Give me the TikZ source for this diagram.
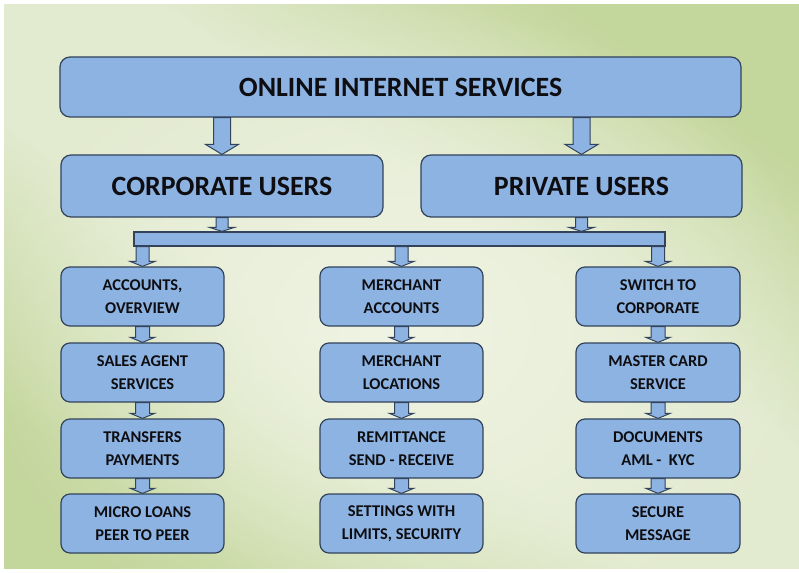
\documentclass[tikz,border=0pt]{standalone}
\usepackage{fontspec}
\setmainfont{Carlito}
\usetikzlibrary{calc,fadings}
\definecolor{boxfill}{HTML}{8DB3E2}
\definecolor{boxline}{HTML}{33435B}
\definecolor{bgG}{HTML}{C3D69B}
\definecolor{bgM}{HTML}{E2EACF}
\definecolor{bgL}{HTML}{F0F4E4}
\definecolor{txt}{HTML}{0E0E12}
\pgfdeclareverticalshading{bgsh}{100bp}{color(0bp)=(bgG); color(25bp)=(bgG); color(43bp)=(bgM); color(50bp)=(bgM); color(57bp)=(bgM); color(75bp)=(bgG); color(100bp)=(bgG)}
\tikzfading[name=bgfade, inner color=transparent!0, outer color=transparent!100]
\tikzset{
  bigbox/.style={draw=boxline, fill=boxfill, line width=1.2bp, rounded corners=10bp,
    inner sep=0pt, align=center, text=txt, font=\fontsize{28}{32}\selectfont\bfseries},
  smallbox/.style={draw=boxline, fill=boxfill, line width=1.2bp, rounded corners=9bp,
    inner sep=0pt, align=center, text=txt, minimum width=163bp, minimum height=59bp,
    font=\fontsize{16.5}{22.7}\selectfont\bfseries},
  barbox/.style={draw=boxline, fill=boxfill, line width=1.2bp, inner sep=0pt},
  blkarrow/.style={draw=boxline, fill=boxfill, line width=1bp, line join=miter},
}
% block arrow: #1 start, #2 tip, #3 shaft half width, #4 head half width, #5 head length
\newcommand\blkarr[5]{%
  \filldraw[blkarrow] let \p1=#1, \p2=#2 in
    (\x1-#3,\y1) -- (\x1-#3,\y2+#5) -- (\x1-#4,\y2+#5) -- (\x1,\y2)
    -- (\x1+#4,\y2+#5) -- (\x1+#3,\y2+#5) -- (\x1+#3,\y1) -- cycle;}
\begin{document}
\begin{tikzpicture}[x=1bp,y=-1bp]
\useasboundingbox (0,0) rectangle (799,573);
\fill[white] (0,0) rectangle (799,573);
\shade[shading=bgsh, shading angle=-35] (4,5) rectangle (799,568);
\begin{scope}
\clip (4,5) rectangle (799,568);
\fill[bgL, path fading=bgfade] (400,330) ellipse [x radius=430bp, y radius=330bp];
\end{scope}

% nodes
\node[bigbox, minimum width=681bp, minimum height=60bp] (top) at (400.5,87) {ONLINE INTERNET SERVICES};
\node[bigbox, minimum width=322bp, minimum height=62bp] (corp) at (222,186) {CORPORATE USERS};
\node[bigbox, minimum width=321bp, minimum height=62bp] (priv) at (581.5,186) {PRIVATE USERS};
\node[barbox, minimum width=531bp, minimum height=14bp] (bar) at (399.5,239) {};

\node[smallbox] (l1) at (142.5,296.5) {ACCOUNTS,\\OVERVIEW};
\node[smallbox] (l2) at (142.5,372.5) {SALES AGENT\\SERVICES};
\node[smallbox] (l3) at (142.5,448.5) {TRANSFERS\\PAYMENTS};
\node[smallbox] (l4) at (142.5,523.5) {MICRO LOANS\\PEER TO PEER};

\node[smallbox] (m1) at (401.5,296.5) {MERCHANT\\ACCOUNTS};
\node[smallbox] (m2) at (401.5,372.5) {MERCHANT\\LOCATIONS};
\node[smallbox] (m3) at (401.5,448.5) {REMITTANCE\\SEND - RECEIVE};
\node[smallbox] (m4) at (401.5,523.5) {SETTINGS WITH\\LIMITS, SECURITY};

\node[smallbox, minimum width=164bp] (r1) at (658,296.5) {SWITCH TO\\CORPORATE};
\node[smallbox, minimum width=164bp] (r2) at (658,372.5) {MASTER CARD\\SERVICE};
\node[smallbox, minimum width=164bp] (r3) at (658,448.5) {DOCUMENTS\\AML -\ \ KYC};
\node[smallbox, minimum width=164bp] (r4) at (658,523.5) {SECURE\\MESSAGE};

% block arrows
\blkarr{(corp.north |- top.south)}{(corp.north)}{8.5bp}{16.5bp}{10bp}
\blkarr{(priv.north |- top.south)}{(priv.north)}{8.5bp}{16.5bp}{10bp}
\blkarr{(corp.south)}{(corp.south |- bar.north)}{6bp}{12.5bp}{4bp}
\blkarr{(priv.south)}{(priv.south |- bar.north)}{6bp}{12.5bp}{4bp}
\blkarr{(l1.north |- bar.south)}{(l1.north)}{6.5bp}{12.5bp}{5bp}
\blkarr{(m1.north |- bar.south)}{(m1.north)}{6.5bp}{12.5bp}{5bp}
\blkarr{(r1.north |- bar.south)}{(r1.north)}{6.5bp}{12.5bp}{5bp}
\foreach \c in {l,m,r}{
  \blkarr{(\c1.south)}{(\c2.north)}{7bp}{12bp}{5bp}
  \blkarr{(\c2.south)}{(\c3.north)}{7bp}{12bp}{5bp}
  \blkarr{(\c3.south)}{(\c4.north)}{7bp}{12bp}{5bp}
}
\end{tikzpicture}
\end{document}
